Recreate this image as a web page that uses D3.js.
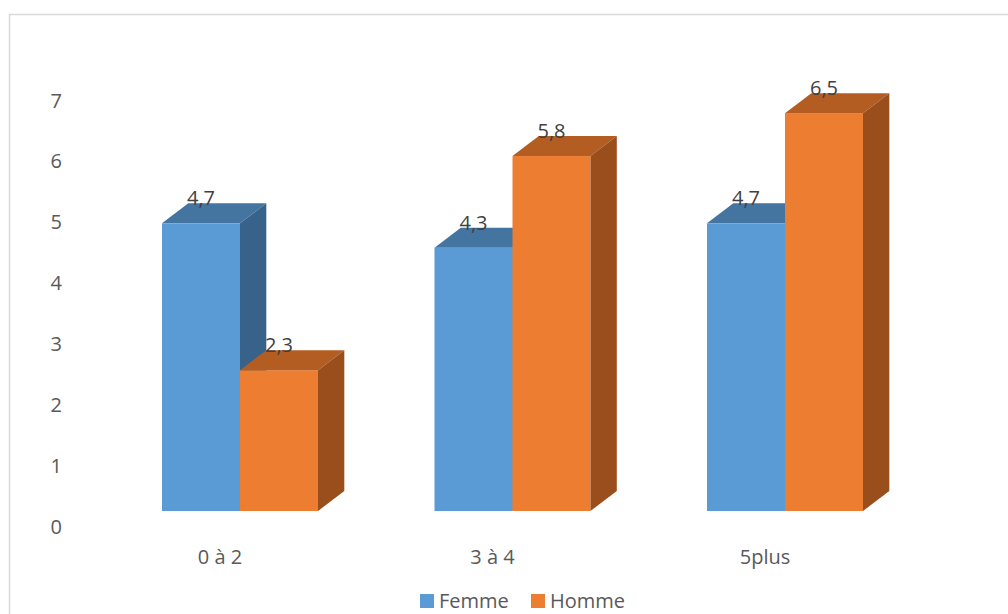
<!DOCTYPE html>
<html>
<head>
<meta charset="utf-8">
<script src="https://cdn.jsdelivr.net/npm/d3@7"></script>
<style>
  html, body { margin: 0; padding: 0; background: #fff; }
  svg { display: block; font-family: "Open Sans", "Noto Sans", sans-serif; }
</style>
</head>
<body>
<svg id="chart" width="1008" height="614"></svg>
<script>
const categories = ["0 à 2", "3 à 4", "5plus"];
const seriesNames = ["Femme", "Homme"];
const femme = [4.7, 4.3, 4.7];
const homme = [2.3, 5.8, 6.5];
const yTicks = [0, 1, 2, 3, 4, 5, 6, 7];
const labelsFemme = ["4,7", "4,3", "4,7"];
const labelsHomme = ["2,3", "5,8", "6,5"];

const colors = {
  Femme: { front: "#5B9BD5", top: "#4475A1", side: "#386289" },
  Homme: { front: "#ED7D31", top: "#B45D22", side: "#9A4E1C" }
};

const svg = d3.select("#chart");
const W = 1008, H = 614;

// chart frame (top and left edges visible)
svg.append("path")
  .attr("d", `M9.5,${H} L9.5,14.5 L${W},14.5`)
  .attr("fill", "none").attr("stroke", "#D9D9D9").attr("stroke-width", 1.5);

const depthX = 26.3, depthY = -20;
const baseY = 511;

const x = d3.scaleBand().domain(categories)
  .range([103.75, 921.25]).paddingInner(0.4275).paddingOuter(0.21375);
const xs = d3.scaleBand().domain(seriesNames).range([0, x.bandwidth()]).padding(0);
const y = d3.scaleLinear().domain([0, 7]).range([baseY, baseY - 7 * 61.2]);
// axis labels sit on the back plane of the 3D chart
const yAxisScale = d3.scaleLinear().domain([0, 7]).range([526.5, 100]);

const yAxis = d3.axisLeft(yAxisScale).tickValues(yTicks).tickSize(0).tickPadding(0)
  .tickFormat(d => String(d));
const gy = svg.append("g").attr("transform", "translate(62,0)").call(yAxis);
gy.select(".domain").remove();
gy.selectAll("text").attr("fill", "#595959").style("font-size", "20px")
  .style("font-family", "'Open Sans', sans-serif").attr("dy", "0.35em").attr("x", 0);

const data = [];
categories.forEach((c, i) => {
  data.push({ cat: c, s: "Femme", v: femme[i], label: labelsFemme[i] });
  data.push({ cat: c, s: "Homme", v: homme[i], label: labelsHomme[i] });
});

const bars = svg.append("g");
data.forEach(d => {
  const x0 = x(d.cat) + xs(d.s), x1 = x0 + xs.bandwidth();
  const yt = y(d.v), yb = y(0);
  const c = colors[d.s];
  const g = bars.append("g");
  g.append("rect").attr("x", x0).attr("y", yt).attr("width", x1 - x0).attr("height", yb - yt)
    .attr("fill", c.front);
  g.append("path")
    .attr("d", `M${x0},${yt} L${x0 + depthX},${yt + depthY} L${x1 + depthX},${yt + depthY} L${x1},${yt} Z`)
    .attr("fill", c.top);
  g.append("path")
    .attr("d", `M${x1},${yt} L${x1 + depthX},${yt + depthY} L${x1 + depthX},${yb + depthY} L${x1},${yb} Z`)
    .attr("fill", c.side);
});

// data labels
svg.append("g").selectAll("text").data(data).join("text")
  .attr("x", d => x(d.cat) + xs(d.s) + xs.bandwidth() / 2)
  .attr("y", d => y(d.v) - 25)
  .attr("dy", "0.35em")
  .attr("text-anchor", "middle")
  .attr("fill", "#404040")
  .style("font-size", "20px")
  .text(d => d.label);

// category labels
svg.append("g").selectAll("text").data(categories).join("text")
  .attr("x", d => x(d) + x.bandwidth() / 2 - 20)
  .attr("y", 557)
  .attr("dy", "0.35em")
  .attr("text-anchor", "middle")
  .attr("fill", "#595959")
  .style("font-size", "20px")
  .text(d => d);

// legend
const legendPos = [{ s: "Femme", x: 420 }, { s: "Homme", x: 531 }];
const lg = svg.append("g");
legendPos.forEach(l => {
  lg.append("rect").attr("x", l.x).attr("y", 594).attr("width", 14).attr("height", 14)
    .attr("fill", colors[l.s].front);
  lg.append("text").attr("x", l.x + 19).attr("y", 601).attr("dy", "0.35em")
    .attr("fill", "#595959").style("font-size", "20px").text(l.s);
});
</script>
</body>
</html>
